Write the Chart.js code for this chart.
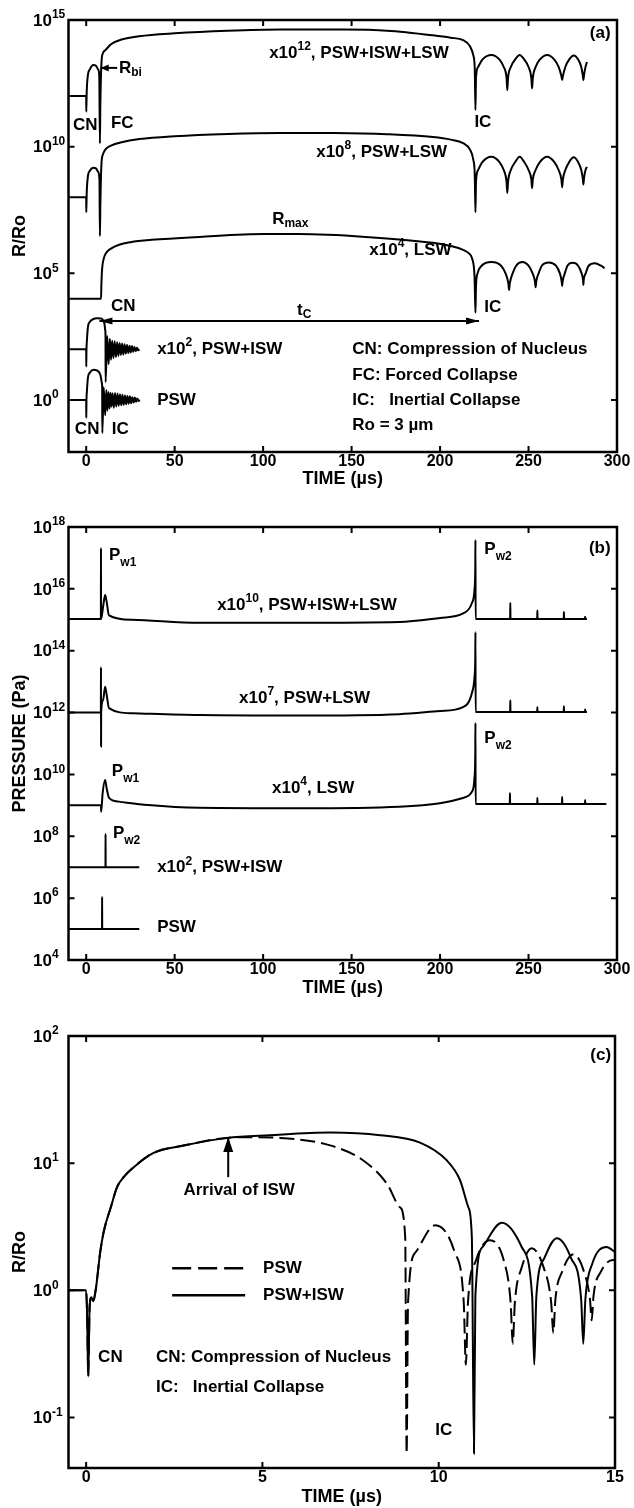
<!DOCTYPE html>
<html>
<head>
<meta charset="utf-8">
<title>Bubble radius and wall pressure</title>
<script src="https://cdn.jsdelivr.net/npm/chart.js@4.4.1/dist/chart.umd.min.js"></script>
<style>
  html, body { margin: 0; padding: 0; background: #fff; }
  .panel { position: absolute; left: 0; width: 634px; }
</style>
</head>
<body>
<div class="panel" style="top:0;height:500px"><canvas id="chartA"></canvas></div>
<div class="panel" style="top:500px;height:500px"><canvas id="chartB"></canvas></div>
<div class="panel" style="top:1000px;height:508px"><canvas id="chartC"></canvas></div>
<script>
var FONT = "'Liberation Sans', Arial, Helvetica, sans-serif";
var BIG = 'bold 17px ' + FONT;
var SMALL = 'bold 12px ' + FONT;

// ---------- panel (a): R/Ro, each curve shifted by its factor ----------
var aTicksX = [0, 50, 100, 150, 200, 250, 300];
var aTicksY = [1, 1e5, 1e10, 1e15];
var aFactors = [1, 1e2, 1e4, 1e8, 1e12]; // PSW, PSW+ISW, LSW, PSW+LSW, PSW+ISW+LSW

var aTimePsw = [-10, 0, 0.05, 0.15, 0.4, 1, 2, 4, 6, 8, 8.9, 9.05, 9.1,
  9.9, 10.7, 11.4, 12.0, 12.6, 13.2, 13.75, 14.3, 14.9, 15.6, 16.3, 17.0, 17.7, 18.4, 19.1, 19.8,
  20.5, 21.2, 21.9, 22.6, 23.3, 24.0, 24.7, 25.4, 26.1, 26.8, 27.5, 28.2, 28.9, 29.6, 30.3];
var aRadPsw = [1, 1, 0.2, 0.88, 2.2, 7.8, 12, 15.8, 14.8, 10, 4.5, 2.6, 0.05,
  3.2, 0.25, 2.5, 0.38, 2.1, 0.46, 1.95, 0.55, 1.85, 0.5, 1.9, 0.55, 1.8, 0.6, 1.7, 0.62,
  1.6, 0.65, 1.5, 0.68, 1.45, 0.72, 1.4, 0.75, 1.3, 0.8, 1.25, 0.85, 1.15, 0.92, 1.0];

var aTimePsi = [-10, 0, 0.05, 0.15, 0.4, 1, 2, 4, 6, 8.4, 9.5, 10.3, 10.8, 10.93, 10.96,
  11.9, 12.66, 13.4, 14.04, 14.7, 15.4, 16.1, 16.8, 17.5, 18.2, 18.9, 19.6, 20.3, 21.0,
  21.7, 22.4, 23.1, 23.8, 24.5, 25.2, 25.9, 26.6, 27.3, 28.0, 28.7, 29.4, 30.1];
var aRadPsi = [1, 1, 0.21, 0.88, 2.2, 7.8, 12, 15.8, 17, 16.6, 14.5, 10.5, 5.5, 2.6, 0.052,
  3.4, 0.26, 2.65, 0.39, 2.2, 0.45, 2.1, 0.5, 1.9, 0.55, 1.8, 0.6, 1.7, 0.62,
  1.6, 0.68, 1.5, 0.72, 1.4, 0.76, 1.35, 0.8, 1.25, 0.85, 1.15, 0.92, 1.0];

var aTimeLsw = [-10, 8.4, 8.6, 9, 10, 11.2, 14, 18.6, 25, 37, 64, 101, 120, 158, 196, 206, 213, 216.5, 218, 219.5, 220,
  220.3, 221.2, 223.5, 229, 234.5, 237, 238.6, 239, 239.4, 241, 243, 246.5, 250, 252.3, 253.6, 254, 254.4, 255.7,
  257.5, 261.5, 265.5, 267.7, 268.7, 269, 269.3, 270.5, 272, 275, 278, 280, 280.8, 281, 281.2, 282.3, 284, 287.5, 291, 293];
var aRadLsw = [1, 1, 4, 15, 40, 63, 95, 135, 170, 210, 275, 355, 355, 275, 160, 120, 85, 60, 40, 7, 0.28,
  3, 10, 20, 28, 20, 10, 4, 2.2, 4, 10, 20, 28, 20, 10, 5, 2.8, 5, 10,
  20, 27, 20, 10, 5, 3.2, 5, 10, 20, 26, 20, 10, 5.5, 3.5, 5.5, 10, 20, 25, 20, 16];

var aTimePl = [-10, 0, 0.05, 0.3, 1, 2, 4, 5.5, 6.8, 7.5, 7.75, 8.0, 8.3, 8.7, 9.5, 11, 14, 20, 30, 50,
  80, 110, 140, 170, 196, 206, 213, 217, 218.8, 219.6, 220,
  220.3, 221.5, 224, 229, 233.5, 236, 237.6, 238, 238.4, 240, 242.5, 245, 247.5, 250, 251.6, 252, 252.4, 254,
  256.5, 260.5, 264.5, 267, 268.6, 269, 269.4, 270.8, 273, 275.5, 278, 279.8, 280.6, 281, 281.4, 282.2, 283];
var aRadPl = [1, 1, 0.26, 1.5, 7, 11, 14.8, 14, 10, 5, 0.03, 0.5, 5, 25, 50, 80, 110, 150, 200, 260,
  320, 350, 345, 310, 240, 190, 138, 75, 30, 8, 0.26,
  4, 12, 25, 40, 25, 12, 4, 1.5, 4, 12, 25, 40, 25, 12, 5, 2.3, 5, 12,
  25, 40, 25, 12, 5, 2.5, 5, 12, 25, 38, 25, 12, 6, 3.2, 6, 12, 16];

var aTimeAll = [-10, 0, 0.05, 0.3, 1, 2, 4, 5.5, 6.8, 7.4, 7.75, 8.0, 8.3, 8.7, 9.5, 11, 14, 20, 30, 50,
  80, 110, 140, 170, 196, 206, 213, 217, 218.8, 219.6, 220,
  220.3, 221.5, 224, 229, 233.5, 236, 237.6, 238, 238.4, 240, 242.5, 245, 247.5, 250, 251.6, 252, 252.4, 254,
  256.5, 260.5, 264.5, 267, 268.6, 269, 269.4, 270.8, 273, 275.5, 278, 279.8, 280.6, 281, 281.4, 282.2, 283];
var aRadAll = [1, 1, 0.24, 1.5, 7, 11, 16.6, 15.5, 11, 6, 0.0135, 0.5, 5, 25, 50, 66, 110, 170, 230, 300,
  380, 425, 420, 380, 250, 200, 160, 90, 40, 12, 0.28,
  5, 14, 28, 42, 28, 14, 5, 1.7, 5, 14, 28, 42, 28, 14, 5, 2, 5, 14,
  28, 42, 28, 14, 6, 4.3, 6, 14, 28, 40, 28, 14, 7, 4.3, 7, 14, 22];

// ---------- panel (b): bubble wall pressure (Pa), shifted by factor ----------
var bTicksX = [0, 50, 100, 150, 200, 250, 300];
var bTicksY = [1e4, 1e6, 1e8, 1e10, 1e12, 1e14, 1e16, 1e18];
var bFactors = [1, 1e2, 1e4, 1e7, 1e10];

var bTimePsw = [-10, 8.95, 9.0, 9.05, 30];
var bPresPsw = [1e5, 1e5, 1.1e6, 1e5, 1e5];
var bTimePsi = [-10, 10.9, 10.95, 11.0, 30];
var bPresPsi = [1e5, 1e5, 1.2e6, 1e5, 1e5];

var bTimeLsw = [-10, 8.4, 8.45, 9.3, 10.7, 11.6, 12.9, 18.5, 35, 64, 120, 177, 200, 213, 218, 219.5, 219.9, 220, 220.1,
  239.4, 239.5, 239.6, 254.9, 255, 255.1, 268.9, 269, 269.1, 281.9, 282, 282.1, 294];
var bPresLsw = [1e5, 1e5, 6.2e4, 2.5e5, 6.6e5, 3.5e5, 1.74e5, 1.32e5, 1.02e5, 8.3e4, 8e4, 9e4, 1.17e5, 1.74e5, 2.75e5, 8.5e5, 5e6, 4.6e7, 1.1e5,
  1.1e5, 2.5e5, 1.1e5, 1.1e5, 1.74e5, 1.1e5, 1.1e5, 1.86e5, 1.1e5, 1.1e5, 1.48e5, 1.1e5, 1.1e5];

var bTimePl = [-10, 8.3, 8.35, 8.4, 8.45, 9.5, 10.7, 11.5, 12.9, 26, 64, 120, 177, 200, 213, 218, 219.5, 219.9, 220, 220.1,
  239.6, 239.7, 239.8, 254.9, 255, 255.1, 269.9, 270, 270.1, 281.9, 282, 282.1, 283];
var bPresPl = [1e5, 1e5, 2.95e6, 8e3, 1e5, 2.5e5, 6.8e5, 4e5, 1.4e5, 9.5e4, 8.3e4, 8e4, 8.9e4, 1.12e5, 1.5e5, 4.3e5, 1.5e6, 6e6, 4e7, 1.05e5,
  1.05e5, 2.5e5, 1.05e5, 1.05e5, 1.5e5, 1.05e5, 1.05e5, 1.6e5, 1.05e5, 1.05e5, 1.26e5, 1.05e5, 1.05e5];

var bTimeAll = [-10, 8.3, 8.35, 8.4, 9.5, 10.7, 11.5, 12.9, 26, 64, 120, 177, 200, 213, 218, 219.5, 219.9, 220, 220.1,
  239.6, 239.7, 239.8, 254.9, 255, 255.1, 269.9, 270, 270.1, 281.9, 282, 282.1, 283];
var bPresAll = [1.07e5, 1.07e5, 2.1e7, 1.07e5, 2.5e5, 6.3e5, 4e5, 1.4e5, 1e5, 8e4, 8e4, 8.5e4, 1.15e5, 1.6e5, 3.5e5, 1e6, 5e6, 3.8e7, 1.07e5,
  1.07e5, 3.5e5, 1.07e5, 1.07e5, 2e5, 1.07e5, 1.07e5, 1.8e5, 1.07e5, 1.07e5, 1.26e5, 1.07e5, 1.07e5];

// ---------- panel (c): early R/Ro, PSW vs PSW+ISW ----------
var cTicksX = [0, 5, 10, 15];
var cTicksY = [0.1, 1, 10, 100];

var cTimePsw = [-0.5, 0, 0.03, 0.06, 0.1, 0.15, 0.2, 0.27, 0.4, 0.5, 0.7, 0.88, 1.07, 1.35, 1.9, 2.8, 4.0, 4.8, 5.5, 6.92,
  7.86, 8.53, 8.9, 9.05, 9.09, 9.13, 9.35, 9.9, 10.45, 10.71, 10.77, 10.83, 11.05, 11.45, 11.85, 12.04, 12.1, 12.16, 12.35, 12.64,
  12.98, 13.19, 13.25, 13.31, 13.5, 13.82, 14.12, 14.29, 14.34, 14.39, 14.6, 14.94, 15.0];
var cRadPsw = [1, 1, 0.6, 0.21, 0.75, 0.88, 0.82, 1.0, 2.0, 2.9, 4.5, 6.5, 7.8, 9.3, 12, 13.8, 15.8, 16.0, 15.8, 13.8,
  10.5, 6.9, 4.5, 2.6, 0.052, 0.8, 2.0, 3.25, 2.0, 0.8, 0.26, 0.8, 1.7, 2.47, 1.7, 0.8, 0.38, 0.8, 1.5, 2.14,
  1.5, 0.8, 0.46, 0.85, 1.4, 1.92, 1.4, 0.85, 0.58, 0.9, 1.4, 1.73, 1.72];

var cTimeIsw = [-0.5, 0, 0.03, 0.06, 0.1, 0.15, 0.2, 0.27, 0.4, 0.5, 0.7, 0.88, 1.07, 1.35, 1.9, 2.8, 4.0, 5.2, 6.92, 8.34,
  9.47, 10.23, 10.6, 10.84, 10.94, 11.0, 11.04, 11.25, 11.79, 12.35, 12.65, 12.71, 12.77, 13.0, 13.35, 13.75, 14.04, 14.1, 14.16, 14.35,
  14.76, 15.0];
var cRadIsw = [1, 1, 0.6, 0.21, 0.75, 0.88, 0.82, 1.0, 2.0, 2.9, 4.5, 6.5, 7.8, 9.3, 12, 13.8, 15.8, 16.6, 17.4, 16.6,
  14.5, 10.5, 7.4, 4.5, 2.6, 0.052, 0.9, 2.2, 3.4, 2.2, 0.9, 0.26, 0.9, 1.8, 2.57, 1.8, 0.85, 0.38, 0.85, 1.6,
  2.19, 2.0];

// ---------- helpers ----------
function pts(ts, vs, f) {
  return ts.map(function (t, i) { return { x: t, y: vs[i] * (f || 1) }; });
}

function line(data, dash) {
  return { data: data, borderColor: '#000', borderWidth: 2, borderDash: dash || [],
           pointRadius: 0, fill: false, cubicInterpolationMode: 'monotone' };
}

function drawRich(ctx, x, y, text, align, subDy) {
  var segs = text.split(/(\^\{[^}]*\}|_\{[^}]*\})/).filter(Boolean).map(function (p) {
    if (p.indexOf('^{') === 0) return { s: p.slice(2, -1), f: SMALL, dy: -6 };
    if (p.indexOf('_{') === 0) return { s: p.slice(2, -1), f: SMALL, dy: subDy || 5 };
    return { s: p, f: BIG, dy: 0 };
  });
  var w = 0;
  segs.forEach(function (s) { ctx.font = s.f; s.w = ctx.measureText(s.s).width; w += s.w; });
  var x0 = align === 'right' ? x - w : align === 'center' ? x - w / 2 : x;
  ctx.textAlign = 'left';
  ctx.textBaseline = 'middle';
  segs.forEach(function (s) { ctx.font = s.f; ctx.fillText(s.s, x0, y + s.dy); x0 += s.w; });
}

function head(ctx, x, y, dx, dy, len, hw) {
  var L = Math.sqrt(dx * dx + dy * dy), ux = dx / L, uy = dy / L;
  ctx.beginPath();
  ctx.moveTo(x, y);
  ctx.lineTo(x - ux * len - uy * hw, y - uy * len + ux * hw);
  ctx.lineTo(x - ux * len + uy * hw, y - uy * len - ux * hw);
  ctx.closePath();
  ctx.fill();
}

// frame, inward ticks, power-of-ten labels, notes and arrows
function deco(spec) {
  return {
    id: 'deco',
    afterDraw: function (chart) {
      var ctx = chart.ctx, a = chart.chartArea, xs = chart.scales.x, ys = chart.scales.y;
      function px(t) { return xs.getPixelForValue(t); }
      function py(ly) { return ys.getPixelForValue(Math.pow(10, ly)); }
      ctx.save();
      ctx.strokeStyle = '#000';
      ctx.fillStyle = '#000';
      ctx.lineWidth = 2.5;
      ctx.strokeRect(a.left, a.top, a.right - a.left, a.bottom - a.top);

      ctx.lineWidth = 2;
      ctx.beginPath();
      xs.ticks.forEach(function (t) {
        var x = px(t.value);
        ctx.moveTo(x, a.bottom); ctx.lineTo(x, a.bottom - 6);
        ctx.moveTo(x, a.top); ctx.lineTo(x, a.top + 6);
      });
      ys.ticks.forEach(function (t) {
        var y = ys.getPixelForValue(t.value);
        ctx.moveTo(a.left, y); ctx.lineTo(a.left + 6, y);
        ctx.moveTo(a.right, y); ctx.lineTo(a.right - 6, y);
      });
      ctx.stroke();

      ys.ticks.forEach(function (t) {
        var y = ys.getPixelForValue(t.value);
        var e = Math.round(Math.log10(t.value));
        ctx.textAlign = 'left';
        ctx.textBaseline = 'middle';
        ctx.font = 'bold 17px ' + FONT;
        ctx.fillText('10', 33, y + 1);
        var w = ctx.measureText('10').width;
        ctx.font = 'bold 12px ' + FONT;
        ctx.fillText(String(e), 33 + w, y - 5);
      });

      (spec.arrows || []).forEach(function (ar) {
        var x1 = px(ar.t1), y1 = py(ar.ly1), x2 = px(ar.t2), y2 = py(ar.ly2);
        ctx.lineWidth = 2;
        ctx.beginPath(); ctx.moveTo(x1, y1); ctx.lineTo(x2, y2); ctx.stroke();
        head(ctx, x2, y2, x2 - x1, y2 - y1, ar.len, ar.hw);
        if (ar.both) head(ctx, x1, y1, x1 - x2, y1 - y2, ar.len, ar.hw);
      });

      (spec.keys || []).forEach(function (k) {
        ctx.lineWidth = 2.5;
        ctx.setLineDash(k.dash);
        ctx.beginPath(); ctx.moveTo(px(k.t1), py(k.ly)); ctx.lineTo(px(k.t2), py(k.ly)); ctx.stroke();
        ctx.setLineDash([]);
      });

      spec.labels.forEach(function (l) {
        drawRich(ctx, px(l.t), py(l.ly), l.text, l.align, l.subDy);
      });
      ctx.restore();
    }
  };
}

function options(o) {
  return {
    responsive: true,
    maintainAspectRatio: false,
    animation: false,
    layout: { padding: { left: 0, top: o.top, right: o.right, bottom: 0 } },
    plugins: { legend: { display: false }, tooltip: { enabled: false } },
    scales: {
      x: {
        type: 'linear', min: o.xMin, max: o.xMax,
        afterBuildTicks: function (s) { s.ticks = o.xTicks.map(function (v) { return { value: v }; }); },
        afterFit: function (s) { s.height = o.xHeight; },
        grid: { display: false, drawTicks: false },
        border: { display: false },
        ticks: { color: '#000', padding: 0, maxRotation: 0, autoSkip: false,
                 font: { family: FONT, size: 16, weight: 'bold' } },
        title: { display: true, text: 'TIME (µs)', color: '#000',
                 font: { family: FONT, size: 18, weight: 'bold' },
                 padding: { top: 0, bottom: o.titlePad } }
      },
      y: {
        type: 'logarithmic', min: o.yMin, max: o.yMax,
        afterBuildTicks: function (s) { s.ticks = o.yTicks.map(function (v) { return { value: v }; }); },
        afterFit: function (s) { s.width = 68.5; },
        grid: { display: false, drawTicks: false },
        border: { display: false },
        ticks: { display: false },
        title: { display: true, text: o.yTitle, color: '#000',
                 font: { family: FONT, size: 18, weight: 'bold' },
                 padding: { top: 9, bottom: 0 } }
      }
    }
  };
}

// ---------- panel (a) ----------
new Chart(document.getElementById('chartA'), {
  type: 'line',
  data: {
    datasets: [
      line(pts(aTimePsw, aRadPsw, aFactors[0])),
      line(pts(aTimePsi, aRadPsi, aFactors[1])),
      line(pts(aTimeLsw, aRadLsw, aFactors[2])),
      line(pts(aTimePl, aRadPl, aFactors[3])),
      line(pts(aTimeAll, aRadAll, aFactors[4]))
    ]
  },
  options: options({ top: 20, right: 17, xMin: -10, xMax: 300, xTicks: aTicksX, xHeight: 48, titlePad: 10,
                     yMin: 0.0089, yMax: 1e15, yTicks: aTicksY, yTitle: 'R/Ro' }),
  plugins: [deco({
    labels: [
      { t: 296.4, ly: 14.49, text: '(a)', align: 'right' },
      { t: 103.4, ly: 13.70, text: 'x10^{12}, PSW+ISW+LSW' },
      { t: 18.5, ly: 13.11, text: 'R_{bi}' },
      { t: -7.5, ly: 10.86, text: 'CN' },
      { t: 14.0, ly: 10.94, text: 'FC' },
      { t: 219.4, ly: 10.98, text: 'IC' },
      { t: 130, ly: 9.79, text: 'x10^{8}, PSW+LSW' },
      { t: 105.1, ly: 7.15, text: 'R_{max}' },
      { t: 160, ly: 5.92, text: 'x10^{4}, LSW' },
      { t: 14, ly: 3.71, text: 'CN' },
      { t: 225, ly: 3.67, text: 'IC' },
      { t: 119.2, ly: 3.55, text: 't_{C}' },
      { t: 40.1, ly: 2.01, text: 'x10^{2}, PSW+ISW' },
      { t: 40.1, ly: 0, text: 'PSW' },
      { t: -6.4, ly: -1.14, text: 'CN' },
      { t: 14.5, ly: -1.14, text: 'IC' },
      { t: 150.4, ly: 2.01, text: 'CN: Compression of Nucleus' },
      { t: 150.4, ly: 0.99, text: 'FC: Forced Collapse' },
      { t: 150.4, ly: 0, text: 'IC:   Inertial Collapse' },
      { t: 150.4, ly: -0.99, text: 'Ro = 3 µm' }
    ],
    arrows: [
      { t1: 17.5, ly1: 13.11, t2: 8.2, ly2: 13.11, len: 8, hw: 3.5 },
      { t1: 7.5, ly1: 3.12, t2: 222, ly2: 3.12, len: 13, hw: 3.5, both: true }
    ]
  })]
});

// ---------- panel (b) ----------
new Chart(document.getElementById('chartB'), {
  type: 'line',
  data: {
    datasets: [
      line(pts(bTimePsw, bPresPsw, bFactors[0])),
      line(pts(bTimePsi, bPresPsi, bFactors[1])),
      line(pts(bTimeLsw, bPresLsw, bFactors[2])),
      line(pts(bTimePl, bPresPl, bFactors[3])),
      line(pts(bTimeAll, bPresAll, bFactors[4]))
    ]
  },
  options: options({ top: 27, right: 17, xMin: -10, xMax: 300, xTicks: bTicksX, xHeight: 40, titlePad: 1,
                     yMin: 1e4, yMax: 1e18, yTicks: bTicksY, yTitle: 'PRESSURE (Pa)' }),
  plugins: [deco({
    labels: [
      { t: 296.4, ly: 17.32, text: '(b)', align: 'right' },
      { t: 12.9, ly: 17.09, text: 'P_{w1}', subDy: 8 },
      { t: 225, ly: 17.29, text: 'P_{w2}', subDy: 8 },
      { t: 74, ly: 15.48, text: 'x10^{10}, PSW+ISW+LSW' },
      { t: 86.4, ly: 12.47, text: 'x10^{7}, PSW+LSW' },
      { t: 225, ly: 11.18, text: 'P_{w2}', subDy: 8 },
      { t: 14.5, ly: 10.11, text: 'P_{w1}', subDy: 8 },
      { t: 105, ly: 9.56, text: 'x10^{4}, LSW' },
      { t: 15.1, ly: 8.11, text: 'P_{w2}', subDy: 8 },
      { t: 40.1, ly: 7.0, text: 'x10^{2}, PSW+ISW' },
      { t: 40.1, ly: 5.07, text: 'PSW' }
    ]
  })]
});

// ---------- panel (c) ----------
new Chart(document.getElementById('chartC'), {
  type: 'line',
  data: {
    datasets: [
      line(pts(cTimePsw, cRadPsw), [15, 6]),
      line(pts(cTimeIsw, cRadIsw))
    ]
  },
  options: options({ top: 36, right: 19, xMin: -0.5, xMax: 15, xTicks: cTicksX, xHeight: 40, titlePad: 0,
                     yMin: 0.04, yMax: 100, yTicks: cTicksY, yTitle: 'R/Ro' }),
  plugins: [deco({
    labels: [
      { t: 14.89, ly: 1.85, text: '(c)', align: 'right' },
      { t: 4.34, ly: 0.787, text: 'Arrival of ISW', align: 'center' },
      { t: 5.02, ly: 0.173, text: 'PSW' },
      { t: 5.02, ly: -0.039, text: 'PSW+ISW' },
      { t: 0.34, ly: -0.53, text: 'CN' },
      { t: 1.98, ly: -0.53, text: 'CN: Compression of Nucleus' },
      { t: 1.98, ly: -0.76, text: 'IC:   Inertial Collapse' },
      { t: 9.9, ly: -1.10, text: 'IC' }
    ],
    arrows: [
      { t1: 4.03, ly1: 0.89, t2: 4.03, ly2: 1.205, len: 15, hw: 5 }
    ],
    keys: [
      { t1: 2.44, t2: 4.51, ly: 0.173, dash: [19, 7] },
      { t1: 2.44, t2: 4.51, ly: -0.039, dash: [] }
    ]
  })]
});
</script>
</body>
</html>
